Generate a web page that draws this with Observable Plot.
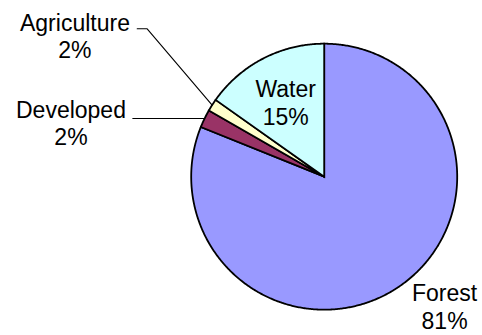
<!DOCTYPE html>
<html>
<head>
<meta charset="utf-8">
<script src="https://cdn.jsdelivr.net/npm/d3@7"></script>
<script src="https://cdn.jsdelivr.net/npm/@observablehq/plot@0.6"></script>
<style>
  html, body { margin: 0; padding: 0; background: #fff; }
  #chart svg { display: block; }
</style>
</head>
<body>
<div id="chart"></div>
<script>
// Land cover shares (percent), in clockwise order starting at 12 o'clock
const categories = ["Forest", "Developed", "Agriculture", "Water"];
const shares = [81.1, 2.2, 1.5, 15.2];

// Slice fills
const sliceColors = ["#9999FF", "#993366", "#FFFFCC", "#CCFFFF"];

// Label placement, in units of the pie radius (y up, centre at 0,0)
const labelLayout = {
  Forest:      {x: 0.905,  y: -0.972},
  Developed:   {x: -1.904, y: 0.405, leader: [[-1.439, null]]},
  Agriculture: {x: -1.874, y: 1.059, leader: [[-1.406, 1.112], [-1.331, 1.112]]},
  Water:       {radial: 0.63}
};

const total = d3.sum(shares);
const step = Math.PI / 360;

// Build each slice as a closed polygon: centre, then points along its arc
let acc = 0;
const slices = categories.map((cat, i) => {
  const a0 = (acc / total) * 2 * Math.PI;
  acc += shares[i];
  const a1 = (acc / total) * 2 * Math.PI;
  return {cat, value: shares[i], a0, a1, mid: (a0 + a1) / 2};
});

const slicePoints = [];
for (const s of slices) {
  slicePoints.push({cat: s.cat, x: 0, y: 0});
  const n = Math.max(2, Math.ceil((s.a1 - s.a0) / step));
  for (let k = 0; k <= n; k++) {
    const a = s.a0 + (s.a1 - s.a0) * k / n;
    slicePoints.push({cat: s.cat, x: Math.sin(a), y: Math.cos(a)});
  }
}

// Labels and leader lines
const labels = [];
const leaders = [];
for (const s of slices) {
  const lay = labelLayout[s.cat];
  const text = `${s.cat}\n${Math.round(s.value / total * 100)}%`;
  if (lay.radial) {
    labels.push({cat: s.cat, text, x: lay.radial * Math.sin(s.mid), y: lay.radial * Math.cos(s.mid)});
  } else {
    labels.push({cat: s.cat, text, x: lay.x, y: lay.y});
  }
  if (lay.leader) {
    const ex = Math.sin(s.mid), ey = Math.cos(s.mid);
    for (const [lx, ly] of lay.leader) leaders.push({cat: s.cat, x: lx, y: ly == null ? ey : ly});
    leaders.push({cat: s.cat, x: ex, y: ey});
  }
}

const chart = Plot.plot({
  width: 482,
  height: 335,
  marginLeft: 190.7,
  marginRight: 25.3,
  marginTop: 43.2,
  marginBottom: 25.8,
  x: {domain: [-1, 1], axis: null},
  y: {domain: [-1, 1], axis: null},
  color: {domain: categories, range: sliceColors},
  style: {fontFamily: "'Liberation Sans', Arial, sans-serif", background: "#fff"},
  marks: [
    Plot.line(slicePoints, {
      x: "x", y: "y", z: "cat", fill: "cat",
      stroke: "#000", strokeWidth: 1.8, strokeLinejoin: "miter", strokeMiterlimit: 10,
      curve: "linear-closed"
    }),
    Plot.line(leaders, {x: "x", y: "y", z: "cat", stroke: "#000", strokeWidth: 1.1, strokeLinejoin: "miter"}),
    Plot.text(labels, {
      x: "x", y: "y", text: "text",
      fontSize: 23, lineHeight: 1.2, fill: "#000", textAnchor: "middle"
    })
  ]
});

document.getElementById("chart").appendChild(chart);
</script>
</body>
</html>
